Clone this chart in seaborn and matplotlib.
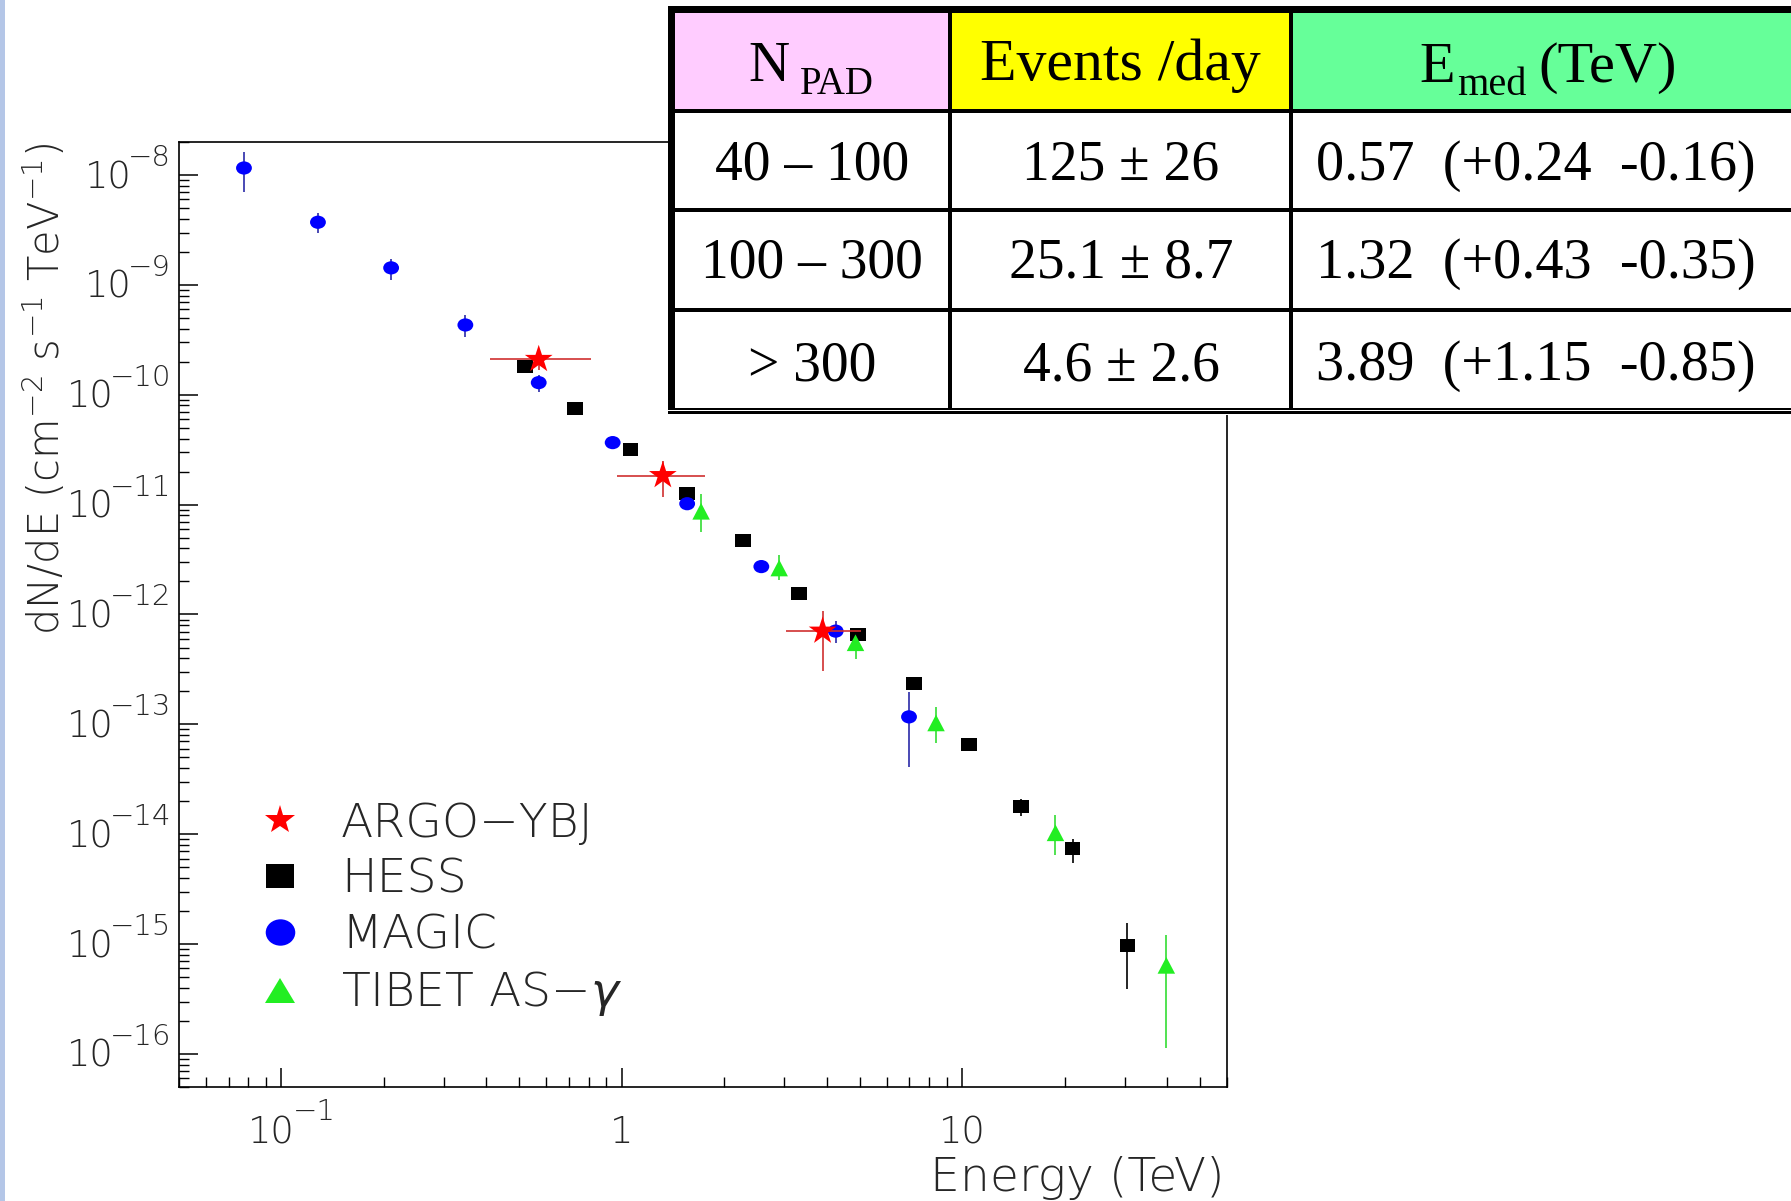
import numpy as np
import pandas as pd
import matplotlib
matplotlib.use("Agg")
import matplotlib.pyplot as plt
import seaborn as sns
from matplotlib.markers import MarkerStyle
from matplotlib.transforms import Affine2D
from matplotlib.lines import Line2D
from matplotlib.patches import Rectangle
from matplotlib.ticker import LogLocator, NullFormatter

# ---------------- data ----------------
argo_E = [0.57, 1.32, 3.89]
argo_E_minus = [0.16, 0.35, 0.85]
argo_E_plus = [0.24, 0.43, 1.15]
argo_F = [2.10e-10, 1.84e-11, 7.06e-13]
argo_F_hi = [2.61e-10, 2.50e-11, 1.08e-12]
argo_F_lo = [1.68e-10, 1.18e-11, 3.05e-13]

hess_E = [0.52, 0.73, 1.06, 1.55, 2.27, 3.32, 4.93, 7.21, 10.5, 14.9, 21.1, 30.6]
hess_F = [1.80e-10, 7.50e-11, 3.20e-11, 1.26e-11, 4.74e-12, 1.56e-12, 6.55e-13,
          2.34e-13, 6.60e-14, 1.78e-14, 7.41e-15, 9.66e-16]
hess_F_hi = [1.90e-10, 7.90e-11, 3.35e-11, 1.32e-11, 4.95e-12, 1.63e-12, 6.90e-13,
             2.48e-13, 7.10e-14, 2.11e-14, 9.12e-15, 1.55e-15]
hess_F_lo = [1.70e-10, 7.10e-11, 3.05e-11, 1.20e-11, 4.53e-12, 1.49e-12, 6.20e-13,
             2.20e-13, 6.10e-14, 1.45e-14, 5.50e-15, 3.89e-16]

magic_E = [0.0776, 0.128, 0.210, 0.347, 0.570, 0.940, 1.556, 2.57, 4.25, 6.98]
magic_F = [1.16e-8, 3.72e-9, 1.43e-9, 4.32e-10, 1.29e-10, 3.67e-11, 1.02e-11,
           2.73e-12, 7.06e-13, 1.17e-13]
magic_F_hi = [1.62e-8, 4.47e-9, 1.72e-9, 5.36e-10, 1.52e-10, 3.98e-11, 1.10e-11,
              2.88e-12, 8.71e-13, 1.95e-13]
magic_F_lo = [7.08e-9, 2.95e-9, 1.10e-9, 3.37e-10, 1.07e-10, 3.39e-11, 9.55e-12,
              2.57e-12, 5.53e-13, 4.06e-14]

tibet_E = [1.71, 2.90, 4.86, 8.38, 18.8, 39.8]
tibet_F = [8.70e-12, 2.65e-12, 5.53e-13, 1.03e-13, 1.03e-14, 6.40e-16]
tibet_F_hi = [1.24e-11, 3.45e-12, 6.87e-13, 1.43e-13, 1.49e-14, 1.22e-15]
tibet_F_lo = [5.61e-12, 2.05e-12, 3.92e-13, 6.76e-14, 6.46e-15, 1.13e-16]

legend_labels = ["ARGO\u2212YBJ", "HESS", "MAGIC", "TIBET AS\u2212$\\gamma$"]

y_tick_exps = [-8, -9, -10, -11, -12, -13, -14, -15, -16]
x_tick_vals = [0.1, 1, 10]

table_header = ["N", "PAD", "Events /day", "E", "med", "(TeV)"]
col_npad = ["40 \u2013 100", "100 \u2013 300", "> 300"]
col_events = ["125 \u00b1 26", "25.1 \u00b1 8.7", "4.6 \u00b1 2.6"]
col_emed = ["0.57  (+0.24  -0.16)", "1.32  (+0.43  -0.35)", "3.89  (+1.15  -0.85)"]

# ---------------- style ----------------
sns.set_style("white")
plt.rcParams["font.family"] = ["DejaVu Sans"]
plt.rcParams["font.weight"] = 200
plt.rcParams["mathtext.fontset"] = "dejavusans"

W, H = 1791, 1201
fig = plt.figure(figsize=(W / 100, H / 100), dpi=100)
fig.patch.set_facecolor("white")

ax = fig.add_axes([179 / W, 1 - 1087 / H, (1227 - 179) / W, (1087 - 142) / H])
ax.set_xscale("log")
ax.set_yscale("log")
ax.set_xlim(0.05, 60)
ax.set_ylim(5e-17, 2e-8)

for s in ax.spines.values():
    s.set_visible(True)
    s.set_color("black")
    s.set_linewidth(1.2)

RED, BLACK, BLUE, GREEN = "#ff0000", "#000000", "#0000ff", "#22ee22"


def yerr(F, hi, lo):
    F = np.asarray(F)
    return [F - np.asarray(lo), np.asarray(hi) - F]


# error bars
ax.errorbar(magic_E, magic_F, yerr=yerr(magic_F, magic_F_hi, magic_F_lo), fmt="none",
            ecolor="#2a2aa8", elinewidth=1.2, capsize=0, zorder=2)
ax.errorbar(hess_E, hess_F, yerr=yerr(hess_F, hess_F_hi, hess_F_lo), fmt="none",
            ecolor="black", elinewidth=1.2, capsize=0, zorder=2)
ax.errorbar(tibet_E, tibet_F, yerr=yerr(tibet_F, tibet_F_hi, tibet_F_lo), fmt="none",
            ecolor="#33dd33", elinewidth=1.2, capsize=0, zorder=2)
ax.errorbar(argo_E, argo_F, yerr=yerr(argo_F, argo_F_hi, argo_F_lo),
            xerr=[argo_E_minus, argo_E_plus], fmt="none",
            ecolor="#d03030", elinewidth=1.2, capsize=0, zorder=4)

# markers via seaborn
m_sq = MarkerStyle("s", transform=Affine2D().scale(1.2, 1.0))
m_ci = MarkerStyle("o", transform=Affine2D().scale(1.2, 1.0))
m_tr = MarkerStyle("^", transform=Affine2D().scale(1.05, 1.0))
m_st = MarkerStyle("*", transform=Affine2D().scale(1.0, 1.0))

df_h = pd.DataFrame({"E": hess_E, "F": hess_F})
df_m = pd.DataFrame({"E": magic_E, "F": magic_F})
df_t = pd.DataFrame({"E": tibet_E, "F": tibet_F})
df_a = pd.DataFrame({"E": argo_E, "F": argo_F})
sns.scatterplot(data=df_h, x="E", y="F", ax=ax, marker=m_sq, s=9.5 ** 2, color=BLACK,
                edgecolor="none", linewidth=0, legend=False, zorder=3)
sns.scatterplot(data=df_m, x="E", y="F", ax=ax, marker=m_ci, s=9.5 ** 2, color=BLUE,
                edgecolor="none", linewidth=0, legend=False, zorder=3)
sns.scatterplot(data=df_t, x="E", y="F", ax=ax, marker=m_tr, s=12.0 ** 2, color=GREEN,
                edgecolor="none", linewidth=0, legend=False, zorder=3)
sns.scatterplot(data=df_a, x="E", y="F", ax=ax, marker=m_st, s=21.0 ** 2, color=RED,
                edgecolor="none", linewidth=0, legend=False, zorder=5)

# ticks (inside, only left/bottom)
ax.set_yticks([10.0 ** e for e in y_tick_exps])
ax.yaxis.set_minor_locator(LogLocator(base=10, subs=np.arange(2, 10), numticks=100))
ax.set_xticks(x_tick_vals)
ax.xaxis.set_minor_locator(LogLocator(base=10, subs=np.arange(2, 10), numticks=100))
ax.xaxis.set_minor_formatter(NullFormatter())
ax.yaxis.set_minor_formatter(NullFormatter())
ax.tick_params(which="major", direction="in", length=13.5, width=1.1, color="black",
               left=True, bottom=True, top=False, right=False,
               labelleft=False, labelbottom=False)
ax.tick_params(which="minor", direction="in", length=7, width=1.0, color="black",
               left=True, bottom=True, top=False, right=False)
ax.set_xlabel("")
ax.set_ylabel("")

# tick labels in ROOT style
fig.canvas.draw()
renderer = fig.canvas.get_renderer()
FS_BASE, FS_EXP = 26.5, 21
for e in y_tick_exps:
    v = 10.0 ** e
    t = ax.annotate("\u2212%d" % (-e), xy=(0, v), xycoords=("axes fraction", "data"),
                    xytext=(-8, 9), textcoords="offset pixels", ha="right", va="baseline",
                    fontsize=FS_EXP)
    w = t.get_window_extent(renderer).width
    ax.annotate("10", xy=(0, v), xycoords=("axes fraction", "data"),
                xytext=(-8 - w + 4, -13), textcoords="offset pixels", ha="right",
                va="baseline", fontsize=FS_BASE)

for v in x_tick_vals:
    if v < 1:
        ax.annotate("10", xy=(v, 0), xycoords=("data", "axes fraction"), xytext=(-10, -56),
                    textcoords="offset pixels", ha="center", va="baseline", fontsize=FS_BASE)
        ax.annotate("\u2212%d" % round(-np.log10(v)), xy=(v, 0),
                    xycoords=("data", "axes fraction"), xytext=(11, -33),
                    textcoords="offset pixels", ha="left", va="baseline", fontsize=FS_EXP)
    else:
        ax.annotate("%d" % v, xy=(v, 0), xycoords=("data", "axes fraction"), xytext=(0, -56),
                    textcoords="offset pixels", ha="center", va="baseline", fontsize=FS_BASE)

# axis titles
fig.text(1224 / W, 1 - 1191 / H, "Energy (TeV)", ha="right", va="baseline", fontsize=34)
fig.text(44 / W, 1 - 143 / H, "dN/dE (cm$^{-2}$ s$^{-1}$ TeV$^{-1}$)", rotation=90,
         ha="center", va="top", fontsize=30)

# legend
handles = [
    Line2D([], [], linestyle="none", marker=MarkerStyle("*", transform=Affine2D().scale(1.05, 1)),
           markersize=21, color=RED, markeredgewidth=0),
    Line2D([], [], linestyle="none", marker=MarkerStyle("s", transform=Affine2D().scale(1.2, 1)),
           markersize=17, color=BLACK, markeredgewidth=0),
    Line2D([], [], linestyle="none", marker=MarkerStyle("o", transform=Affine2D().scale(1.12, 1)),
           markersize=19, color=BLUE, markeredgewidth=0),
    Line2D([], [], linestyle="none", marker=MarkerStyle("^", transform=Affine2D().scale(1.2, 1)),
           markersize=18, color=GREEN, markeredgewidth=0),
]
ax.legend(handles=handles, labels=legend_labels, loc="upper left",
          bbox_to_anchor=(256 / W, 1 - 802 / H), bbox_transform=fig.transFigure,
          frameon=False, fontsize=34, handlelength=1.0, handletextpad=0.8,
          labelspacing=0.25, borderpad=0, borderaxespad=0)

# left slide strip
fig.add_artist(Rectangle((0, 0), 5 / W, 1, transform=fig.transFigure,
                         facecolor="#b4c6e7", edgecolor="none", zorder=5))


# ---------------- table overlay ----------------
def R(x0, y0, x1, y1, color, z=10):
    fig.add_artist(Rectangle((x0 / W, 1 - y1 / H), (x1 - x0) / W, (y1 - y0) / H,
                             transform=fig.transFigure, facecolor=color,
                             edgecolor="none", zorder=z))


def T(x, y, s, ha, fs):
    fig.text(x / W, 1 - y / H, s, ha=ha, va="baseline", fontsize=fs,
             family="Liberation Serif", fontweight="normal", color="black", zorder=12)


XR = W + 5
R(668, 6, XR, 415, "white", 9)
R(675, 12.7, 948, 109, "#ffccff")
R(952, 12.7, 1289, 109, "#ffff00")
R(1293, 12.7, XR, 109, "#66ff99")
R(668, 6, XR, 12.7, "black", 11)          # top border
R(668, 6, 675, 408, "black", 11)          # left border
R(948, 6, 952, 408, "black", 11)          # column dividers
R(1289, 6, 1293, 408, "black", 11)
R(668, 109, XR, 113, "black", 11)         # header bottom
R(668, 208, XR, 212, "black", 11)         # row lines
R(668, 308, XR, 312, "black", 11)
R(668, 407.5, XR, 410, "black", 11)       # double bottom line
R(668, 411.3, XR, 414.5, "black", 11)

T(789, 81, table_header[0], "right", 41)
T(800, 94, table_header[1], "left", 28)
T(1120, 80, table_header[2], "center", 43)
T(1455, 82, table_header[3], "right", 42)
T(1457, 95, table_header[4], "left", 29)
T(1538, 82, table_header[5], "left", 42)

row_baselines = [180, 278, 380]
for i, yb in enumerate(row_baselines):
    T(812, yb, col_npad[i], "center", 40)
    T(1121, yb, col_events[i], "center", 40)
    T(1316, yb, col_emed[i], "left", 40.5)

fig.savefig("out.png", dpi=100, facecolor="white")
